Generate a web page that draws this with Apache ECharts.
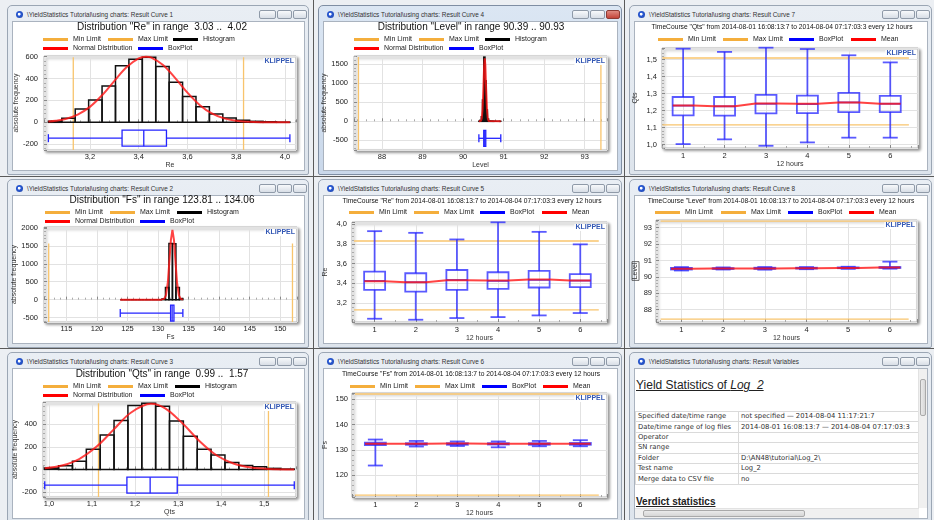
<!DOCTYPE html>
<html><head><meta charset="utf-8">
<script src="https://cdn.jsdelivr.net/npm/echarts@6.0.0/dist/echarts.min.js"></script>
<style>
html,body{margin:0;padding:0;width:934px;height:520px;overflow:hidden;background:#eceff3;font-family:"Liberation Sans",Arial,sans-serif;}
.sep{position:absolute;background:#5a5a5a;}
.sep.v{top:0;width:1px;height:520px;}
.sep.h{left:0;height:1px;width:934px;}
.win{position:absolute;box-sizing:border-box;border:1px solid #9ba6b4;border-radius:5px 5px 2px 2px;background:linear-gradient(#e9eef4,#dde4ec);overflow:hidden}
.win.active{background:linear-gradient(#dbe6f3,#cad8ea);border-color:#7f8ea3}
.wt{position:absolute;left:19px;top:4px;font-size:6.4px;line-height:9px;color:#333;white-space:nowrap}
.ico{position:absolute;left:8px;top:5px;width:7px;height:7px;border-radius:50%;background:radial-gradient(circle at 45% 45%,#fff 0 20%,#2a5bd7 32%,#1b3f9e 100%)}
.btn{position:absolute;top:4px;height:9px;box-sizing:border-box;border:1px solid #8f9aa8;border-radius:2px;background:linear-gradient(#f7f9fb,#d8dee6)}
.btn.red{background:linear-gradient(#e08a80,#c4453a);border-color:#8e3a33}
.cnt{position:absolute;left:4px;top:15px;right:3px;bottom:3px;background:#fff;border:1px solid #aab3bf;box-sizing:border-box;overflow:hidden}
#chart{position:absolute;left:0;top:0;width:934px;height:520px}
.tb{position:absolute;left:0;top:0;right:0;bottom:0;font-family:"DejaVu Sans",Verdana,sans-serif;color:#333}
.tb .h1{position:absolute;left:1px;top:9px;font:12px/14px "Liberation Sans",Arial,sans-serif;text-decoration:underline;color:#222;white-space:nowrap}
.tb table{position:absolute;left:0;top:42px;border-collapse:collapse;table-layout:fixed;width:300px;font-size:6.8px}
.tb td{height:9.4px;padding:0 0 0 2px;border:1px solid #dadada;white-space:nowrap;overflow:hidden;line-height:9px}
.tb .h2{position:absolute;left:1px;top:127px;font:bold 10px/12px "Liberation Sans",Arial,sans-serif;text-decoration:underline;color:#222;white-space:nowrap}
.vs{position:absolute;right:0;top:0;width:8px;bottom:10px;background:#f0f0f0;border-left:1px solid #e2e2e2}
.vs i{position:absolute;left:1px;right:1px;top:10px;height:35px;background:linear-gradient(90deg,#eaeaea,#d6d6d6);border:1px solid #a9a9a9;border-radius:2px}
.hs{position:absolute;left:0;right:8px;top:139px;height:9px;background:#f0f0f0;border-top:1px solid #e2e2e2}
.hs i{position:absolute;top:1px;bottom:1px;left:8px;width:160px;background:linear-gradient(#eaeaea,#d6d6d6);border:1px solid #a9a9a9;border-radius:2px}
</style></head>
<body>
<div class="sep v" style="left:313px"></div>
<div class="sep v" style="left:624px"></div>
<div class="sep h" style="top:176px"></div>
<div class="sep h" style="top:348px"></div>
<div id="wins"></div>
<div id="chart"></div>
<script>
// ======================= DATA =======================
// Distribution "Re"
const reRange = [3.03, 4.02];
const reHist = [10, 36, 122, 204, 332, 518, 576, 594, 509, 365, 235, 143, 76, 40, 18, 9, 5, 2];
const reNormX = [3.03, 3.06, 3.10, 3.15, 3.20, 3.25, 3.30, 3.35, 3.40, 3.43, 3.45, 3.50, 3.55, 3.60, 3.65, 3.70, 3.75, 3.80, 3.85, 3.90, 3.95, 4.02];
const reNormY = [7, 14, 30, 70, 141, 247, 377, 503, 585, 600, 593, 524, 404, 271, 159, 81, 36, 14, 5, 1, 0, 0];
const reBox = [3.03, 3.332, 3.421, 3.514, 4.02];
const reLimits = [3.132, 3.83];

// Distribution "Level"
const levelRange = [90.39, 90.93];
const levelHist = [2, 20, 120, 560, 1680, 1060, 300, 60, 12, 4, 2, 1, 1, 0, 0, 0, 0, 1];
const levelNormX = [90.39, 90.42, 90.44, 90.46, 90.48, 90.50, 90.52, 90.535, 90.55, 90.57, 90.59, 90.61, 90.63, 90.66, 90.93];
const levelNormY = [0, 1, 11, 73, 307, 835, 1456, 1650, 1456, 835, 307, 73, 11, 0, 0];
const levelBox = [90.39, 90.51, 90.535, 90.56, 90.93];
const levelLimits = [87.42, 93.4];

// Distribution "Fs"
const fsRange = [123.81, 134.06];
const fsHist = [0, 0, 0, 0, 0, 0, 0, 0, 0, 0, 0, 0, 20, 340, 1570, 1560, 340, 30];
const fsNormX = [123.81, 130.5, 131.0, 131.3, 131.6, 131.9, 132.1, 132.35, 132.6, 132.8, 133.1, 133.4, 133.7, 134.06];
const fsNormY = [0, 0, 22, 128, 486, 1183, 1671, 1950, 1671, 1183, 486, 128, 22, 1];
const fsBox = [123.81, 132.05, 132.3, 132.6, 134.06];
const fsLimits = [112.1, 152.0];

// Distribution "Qts"
const qtsRange = [0.99, 1.57];
const qtsHist = [12, 32, 72, 178, 306, 433, 566, 588, 560, 429, 295, 178, 128, 61, 34, 24, 9, 3];
const qtsNormX = [0.99, 1.03, 1.07, 1.11, 1.15, 1.19, 1.237, 1.27, 1.31, 1.35, 1.39, 1.43, 1.47, 1.51, 1.57];
const qtsNormY = [10, 34, 92, 200, 353, 503, 582, 541, 409, 250, 123, 50, 16, 4, 0];
const qtsBox = [0.99, 1.181, 1.235, 1.298, 1.57];
const qtsLimits = [1.115, 1.51];

// Time courses (12-hour groups)
const tcGroups = [1, 2, 3, 4, 5, 6];

const qtsTcMin  = [1.002, 1.030, 0.992, 1.012, 1.040, 1.040];
const qtsTcQ1   = [1.171, 1.170, 1.183, 1.185, 1.191, 1.191];
const qtsTcMed  = [1.229, 1.225, 1.240, 1.238, 1.248, 1.240];
const qtsTcQ3   = [1.280, 1.280, 1.293, 1.288, 1.304, 1.286];
const qtsTcMax  = [1.565, 1.546, 1.571, 1.563, 1.526, 1.484];
const qtsTcMean = [1.230, 1.226, 1.242, 1.240, 1.248, 1.240];

const reTcMin  = [3.041, 3.031, 3.048, 3.058, 3.075, 3.099];
const reTcQ1   = [3.334, 3.317, 3.334, 3.344, 3.358, 3.361];
const reTcMed  = [3.425, 3.412, 3.435, 3.425, 3.435, 3.428];
const reTcQ3   = [3.519, 3.503, 3.536, 3.513, 3.526, 3.493];
const reTcMax  = [3.930, 3.913, 3.846, 4.020, 3.923, 3.796];
const reTcMean = [3.422, 3.412, 3.432, 3.428, 3.440, 3.430];

const levelTcMin  = [90.39, 90.45, 90.44, 90.47, 90.49, 90.50];
const levelTcQ1   = [90.45, 90.49, 90.49, 90.51, 90.53, 90.55];
const levelTcMed  = [90.50, 90.51, 90.52, 90.53, 90.55, 90.57];
const levelTcQ3   = [90.55, 90.53, 90.56, 90.56, 90.58, 90.60];
const levelTcMax  = [90.60, 90.58, 90.60, 90.60, 90.62, 90.93];
const levelTcMean = [90.50, 90.51, 90.52, 90.53, 90.55, 90.57];

const fsTcMin  = [123.81, 131.3, 131.5, 131.0, 131.4, 131.4];
const fsTcQ1   = [131.9, 132.0, 132.0, 132.1, 132.0, 132.0];
const fsTcMed  = [132.3, 132.3, 132.3, 132.35, 132.3, 132.3];
const fsTcQ3   = [132.8, 132.6, 132.6, 132.6, 132.6, 132.7];
const fsTcMax  = [134.06, 133.5, 133.3, 133.3, 133.5, 133.8];
const fsTcMean = [132.35, 132.4, 132.45, 132.4, 132.4, 132.4];

const distTitles = [
  'Distribution "Re" in range  3.03 ..  4.02',
  'Distribution "Level" in range 90.39 .. 90.93',
  'Distribution "Fs" in range 123.81 .. 134.06',
  'Distribution "Qts" in range  0.99 ..  1.57'
];
const tcTitles = [
  'TimeCourse "Qts" from 2014-08-01 16:08:13:7 to 2014-08-04 07:17:03:3 every 12 hours',
  'TimeCourse "Re" from 2014-08-01 16:08:13:7 to 2014-08-04 07:17:03:3 every 12 hours',
  'TimeCourse "Level" from 2014-08-01 16:08:13:7 to 2014-08-04 07:17:03:3 every 12 hours',
  'TimeCourse "Fs" from 2014-08-01 16:08:13:7 to 2014-08-04 07:17:03:3 every 12 hours'
];
const winNames = ['Result Curve 1', 'Result Curve 4', 'Result Curve 7', 'Result Curve 2', 'Result Curve 5', 'Result Curve 8', 'Result Curve 3', 'Result Curve 6', 'Result Variables'];
const tableRows = [
  ['Specified date/time range', 'not specified \u2014 2014-08-04 11:17:21:7'],
  ['Date/time range of log files', '2014-08-01 16:08:13:7 \u2014 2014-08-04 07:17:03:3'],
  ['Operator', ''],
  ['SN range', ''],
  ['Folder', 'D:\\AN48\\tutorial\\Log_2\\'],
  ['Test name', 'Log_2'],
  ['Merge data to CSV file', 'no']
];

// ======================= LAYOUT / STYLE =======================
const FONT = '"Liberation Sans", Arial, sans-serif';
const PREFIX = '\\YieldStatistics Tutorial\\using charts: ';
const C_LIM = '#f8c46c', C_LIMLEG = '#f4ae3c', C_RED = 'rgba(255,20,20,0.8)', C_BLUE = '#2323ff', C_BLUE_TC = 'rgba(35,35,255,0.75)';

const winRects = [
  [7, 5, 309, 175], [318, 5, 622, 175], [629, 5, 932, 175],
  [7, 179, 309, 348], [318, 179, 622, 348], [629, 179, 932, 348],
  [7, 352, 309, 523], [318, 352, 622, 523], [629, 352, 932, 523]
];

const tableHtml = '<div class="tb"><div class="h1">Yield Statistics of <i>Log_2</i></div><table><colgroup><col style="width:103px"><col style="width:197px"></colgroup>' +
  tableRows.map(r => '<tr><td>' + r[0] + '</td><td>' + r[1] + '</td></tr>').join('') +
  '</table><div class="h2">Verdict statistics</div><div class="vs"><i></i></div><div class="hs"><i></i></div></div>';

const winsEl = document.getElementById('wins');
winRects.forEach((r, i) => {
  const d = document.createElement('div');
  d.className = 'win' + (i === 1 ? ' active' : '');
  d.style.cssText = `left:${r[0]}px;top:${r[1]}px;width:${r[2] - r[0]}px;height:${r[3] - r[1]}px`;
  d.innerHTML = '<div class="ico"></div><div class="wt"></div>' +
    '<div class="btn" style="right:32px;width:17px"></div><div class="btn" style="right:16px;width:15px"></div>' +
    '<div class="btn' + (i === 1 ? ' red' : '') + '" style="right:1px;width:14px"></div>' +
    '<div class="cnt">' + (i === 8 ? tableHtml : '') + '</div>';
  d.querySelector('.wt').textContent = PREFIX + winNames[i];
  winsEl.appendChild(d);
});

const distLayouts = [
  {grid: [44, 56, 296, 150], x: [3.012, 4.045], xSplit: 5, xDec: 1, y: [-253, 606], ySplit: 4, title: [162, 27], leg1: [43, 108, 173], leg2: [43, 138], legY: [40, 49], boxY: -145, xName: 'Re'},
  {grid: [354, 56, 607, 150], x: [87.31, 93.55], xSplit: 5, xDec: 0, y: [-751, 1709], ySplit: 5, title: [471, 27], leg1: [354, 419, 485], leg2: [354, 449], legY: [40, 49], boxY: -445, xName: 'Level'},
  {grid: [44, 227, 297, 322], x: [111.33, 152.74], xSplit: 8, xDec: 0, y: [-624, 2028], ySplit: 5, title: [162, 200], leg1: [45, 110, 177], leg2: [45, 140], legY: [213, 222], boxY: -376, xName: 'Fs'},
  {grid: [43, 402, 296, 497], x: [0.986, 1.574], xSplit: 5, xDec: 1, y: [-245, 598], ySplit: 5, title: [162, 374], leg1: [43, 108, 175], leg2: [43, 140], legY: [387, 396], boxY: -140, xName: 'Qts'}
];
const distData = [
  {range: reRange, hist: reHist, nx: reNormX, ny: reNormY, box: reBox, lim: reLimits},
  {range: levelRange, hist: levelHist, nx: levelNormX, ny: levelNormY, box: levelBox, lim: levelLimits},
  {range: fsRange, hist: fsHist, nx: fsNormX, ny: fsNormY, box: fsBox, lim: fsLimits},
  {range: qtsRange, hist: qtsHist, nx: qtsNormX, ny: qtsNormY, box: qtsBox, lim: qtsLimits}
];
const tcLayouts = [
  {grid: [662, 48, 918, 148], x: [0.49, 6.67], y: [0.979, 1.569], yDec: 1, title: [782, 27], legX: [658, 723, 789, 851], legY: 40, yName: 'Qts', yGap: 23, yMargin: 5},
  {grid: [352, 222, 607, 322], x: [0.45, 6.65], y: [3.008, 4.023], yDec: 1, title: [472, 201], legX: [349, 414, 480, 542], legY: 213, yName: 'Re', yGap: 23, yMargin: 5},
  {grid: [656, 220, 917, 322], x: [0.39, 6.65], y: [87.25, 93.47], yDec: 0, title: [781, 201], legX: [655, 721, 788, 849], legY: 213, yName: 'Level', yGap: 17, yMargin: 4, boxed: true},
  {grid: [352, 393, 607, 497], x: [0.43, 6.65], y: [111.4, 152.4], yDec: 0, title: [471, 374], legX: [350, 415, 482, 543], legY: 387, yName: 'Fs', yGap: 23, yMargin: 4}
];
const tcData = [
  {min: qtsTcMin, q1: qtsTcQ1, med: qtsTcMed, q3: qtsTcQ3, max: qtsTcMax, mean: qtsTcMean, lim: qtsLimits},
  {min: reTcMin, q1: reTcQ1, med: reTcMed, q3: reTcQ3, max: reTcMax, mean: reTcMean, lim: reLimits},
  {min: levelTcMin, q1: levelTcQ1, med: levelTcMed, q3: levelTcQ3, max: levelTcMax, mean: levelTcMean, lim: levelLimits},
  {min: fsTcMin, q1: fsTcQ1, med: fsTcMed, q3: fsTcQ3, max: fsTcMax, mean: fsTcMean, lim: fsLimits}
];

// ======================= BUILD OPTION =======================
const option = {animation: false, textStyle: {fontFamily: FONT}, grid: [], xAxis: [], yAxis: [], legend: [], series: [], graphic: []};

const fmt = dec => v => (Math.round(v * 1000) / 1000).toFixed(dec).replace('.', ',');

function addGrid(g) {
  option.grid.push({left: g[0], top: g[1], width: g[2] - g[0], height: g[3] - g[1], show: true, backgroundColor: '#fff',
    borderColor: '#b9b9b9', borderWidth: 1, shadowColor: 'rgba(0,0,0,0.45)', shadowBlur: 3, shadowOffsetX: 2, shadowOffsetY: 2});
  return option.grid.length - 1;
}
function axis(k, range, split, dec, name, nameGap, margin, minorSplit, nameExtra) {
  return {
    type: 'value', gridIndex: k, min: range[0], max: range[1], splitNumber: split,
    name: name, nameLocation: 'middle', nameGap: nameGap,
    nameTextStyle: Object.assign({fontSize: 7, color: '#333', fontFamily: FONT}, nameExtra || {}),
    axisLine: {show: false},
    axisTick: {show: true, inside: true, length: 3, lineStyle: {color: '#888'}},
    minorTick: {show: true, splitNumber: minorSplit, length: 2, lineStyle: {color: '#aaa'}},
    axisLabel: {fontSize: 7.5, color: '#222', fontFamily: FONT, margin: margin, formatter: fmt(dec), showMinLabel: false, showMaxLabel: false, hideOverlap: false},
    splitLine: {show: true, lineStyle: {color: '#e2e2e2', width: 1}}
  };
}
function legendItem(name, x, y) {
  option.legend.push({data: [name], left: x, top: y - 4, padding: 0, itemWidth: 25, itemHeight: 3, icon: 'rect', selectedMode: false,
    textStyle: {fontSize: 7, color: '#222', fontFamily: FONT}});
}
function textG(x, y, text, size, extra) {
  option.graphic.push({type: 'text', x: x, y: y, z: 100, silent: true,
    style: Object.assign({text: text, font: size + 'px ' + FONT, fill: '#111', align: 'center', verticalAlign: 'middle'}, extra || {})});
}
function klippel(g) {
  option.graphic.push({type: 'text', x: g[2] - 1, y: g[1] + 2, z: 100, silent: true,
    style: {text: 'KLIPPEL', font: 'bold 7px ' + FONT, fill: '#3458b4', align: 'right', verticalAlign: 'top', backgroundColor: '#fff', padding: [0, 1]}});
}

// ---- distribution panels ----
distLayouts.forEach((L, i) => {
  const D = distData[i];
  const k = addGrid(L.grid);
  option.xAxis.push(axis(k, L.x, L.xSplit, L.xDec, L.xName, 12, 3, 5));
  option.yAxis.push(axis(k, L.y, L.ySplit, 0, 'absolute frequency', 23, 6, 5));
  textG(L.title[0], L.title[1], distTitles[i], 10);
  klippel(L.grid);
  legendItem('Min Limit', L.leg1[0], L.legY[0]);
  legendItem('Max Limit', L.leg1[1], L.legY[0]);
  legendItem('Histogram', L.leg1[2], L.legY[0]);
  legendItem('Normal Distribution', L.leg2[0], L.legY[1]);
  legendItem('BoxPlot', L.leg2[1], L.legY[1]);
  const n = D.hist.length, w = (D.range[1] - D.range[0]) / n;
  const hMax = Math.max(...D.hist);
  ['Min Limit', 'Max Limit'].forEach((nm, j) => {
    option.series.push({name: nm, type: 'line', xAxisIndex: k, yAxisIndex: k, symbol: 'none', silent: true, z: 3,
      data: [[D.lim[j], L.y[0]], [D.lim[j], hMax]], lineStyle: {color: C_LIM, width: 1.3}, itemStyle: {color: C_LIMLEG}});
  });
  option.series.push({name: 'Histogram', type: 'custom', xAxisIndex: k, yAxisIndex: k, z: 4, silent: true,
    data: D.hist.map((c, b) => [D.range[0] + b * w, D.range[0] + (b + 1) * w, c]),
    encode: {x: [0, 1], y: 2}, itemStyle: {color: '#000'},
    renderItem: (p, api) => {
      const a = api.coord([api.value(0), api.value(2)]);
      const b = api.coord([api.value(1), 0]);
      return {type: 'rect', shape: {x: a[0], y: a[1], width: b[0] - a[0], height: b[1] - a[1]},
        style: {fill: 'none', stroke: '#111', lineWidth: 1.5}};
    }});
  option.series.push({name: 'Normal Distribution', type: 'line', xAxisIndex: k, yAxisIndex: k, symbol: 'none', silent: true, z: 5,
    smooth: (i === 0 || i === 3) ? 0.35 : false,
    data: D.nx.map((x, j) => [x, D.ny[j]]), lineStyle: {color: C_RED, width: 2}, itemStyle: {color: '#ff0000'}});
  option.series.push({name: 'BoxPlot', type: 'custom', xAxisIndex: k, yAxisIndex: k, z: 6, silent: true,
    data: [[...D.box, L.boxY]], encode: {x: [0, 1, 2, 3, 4], y: 5}, itemStyle: {color: '#0000ff'},
    renderItem: (p, api) => {
      const yv = api.value(5);
      const X = j => api.coord([api.value(j), yv])[0];
      const y = api.coord([api.value(2), yv])[1];
      const h = 8, c = 4;
      const st = () => ({stroke: C_BLUE, lineWidth: 1.3, fill: 'none'});
      return {type: 'group', children: [
        {type: 'line', shape: {x1: X(0), y1: y, x2: X(1), y2: y}, style: st()},
        {type: 'line', shape: {x1: X(3), y1: y, x2: X(4), y2: y}, style: st()},
        {type: 'line', shape: {x1: X(0), y1: y - c, x2: X(0), y2: y + c}, style: st()},
        {type: 'line', shape: {x1: X(4), y1: y - c, x2: X(4), y2: y + c}, style: st()},
        {type: 'rect', shape: {x: X(1), y: y - h, width: X(3) - X(1), height: 2 * h}, style: st()},
        {type: 'line', shape: {x1: X(2), y1: y - h, x2: X(2), y2: y + h}, style: st()}
      ]};
    }});
});

// ---- time-course panels ----
tcLayouts.forEach((L, i) => {
  const D = tcData[i];
  const k = addGrid(L.grid);
  option.xAxis.push(axis(k, L.x, 5, 0, '12 hours', 13, 4, 2));
  option.yAxis.push(axis(k, L.y, 5, L.yDec, L.yName, L.yGap, L.yMargin, 5,
    L.boxed ? {borderColor: '#444', borderWidth: 0.8, padding: [0, 1, 0, 1]} : null));
  textG(L.title[0], L.title[1], tcTitles[i], 6.7);
  klippel(L.grid);
  ['Min Limit', 'Max Limit', 'BoxPlot', 'Mean'].forEach((nm, j) => legendItem(nm, L.legX[j], L.legY));
  const g0 = tcGroups[0], g1 = tcGroups[tcGroups.length - 1];
  ['Min Limit', 'Max Limit'].forEach((nm, j) => {
    option.series.push({name: nm, type: 'line', xAxisIndex: k, yAxisIndex: k, symbol: 'none', silent: true, z: 3,
      data: [[g0 - 0.5, D.lim[j]], [g1 + 0.45, D.lim[j]]], lineStyle: {color: C_LIM, width: 1.3}, itemStyle: {color: C_LIMLEG}});
  });
  option.series.push({name: 'BoxPlot', type: 'custom', xAxisIndex: k, yAxisIndex: k, z: 4, silent: true,
    data: tcGroups.map((g, j) => [g, D.min[j], D.q1[j], D.med[j], D.q3[j], D.max[j]]),
    encode: {x: 0, y: [1, 2, 3, 4, 5]}, itemStyle: {color: '#0000ff'},
    renderItem: (p, api) => {
      const xv = api.value(0);
      const Y = j => api.coord([xv, api.value(j)])[1];
      const cx = api.coord([xv, api.value(1)])[0];
      const hw = 10.5, cw = 7.5;
      const st = () => ({stroke: C_BLUE_TC, lineWidth: 1.8, fill: 'none'});
      return {type: 'group', children: [
        {type: 'line', shape: {x1: cx, y1: Y(5), x2: cx, y2: Y(4)}, style: st()},
        {type: 'line', shape: {x1: cx, y1: Y(2), x2: cx, y2: Y(1)}, style: st()},
        {type: 'line', shape: {x1: cx - cw, y1: Y(5), x2: cx + cw, y2: Y(5)}, style: st()},
        {type: 'line', shape: {x1: cx - cw, y1: Y(1), x2: cx + cw, y2: Y(1)}, style: st()},
        {type: 'rect', shape: {x: cx - hw, y: Y(4), width: 2 * hw, height: Y(2) - Y(4)}, style: st()},
        {type: 'line', shape: {x1: cx - hw, y1: Y(3), x2: cx + hw, y2: Y(3)}, style: st()}
      ]};
    }});
  option.series.push({name: 'Mean', type: 'line', xAxisIndex: k, yAxisIndex: k, symbol: 'none', silent: true, z: 5,
    data: tcGroups.flatMap((g, j) => [[g - 0.25, D.mean[j]], [g + 0.25, D.mean[j]]]),
    lineStyle: {color: C_RED, width: 2}, itemStyle: {color: '#ff0000'}});
});

const chart = echarts.init(document.getElementById('chart'), null, {renderer: 'canvas'});
chart.setOption(option);
</script>
</body></html>
